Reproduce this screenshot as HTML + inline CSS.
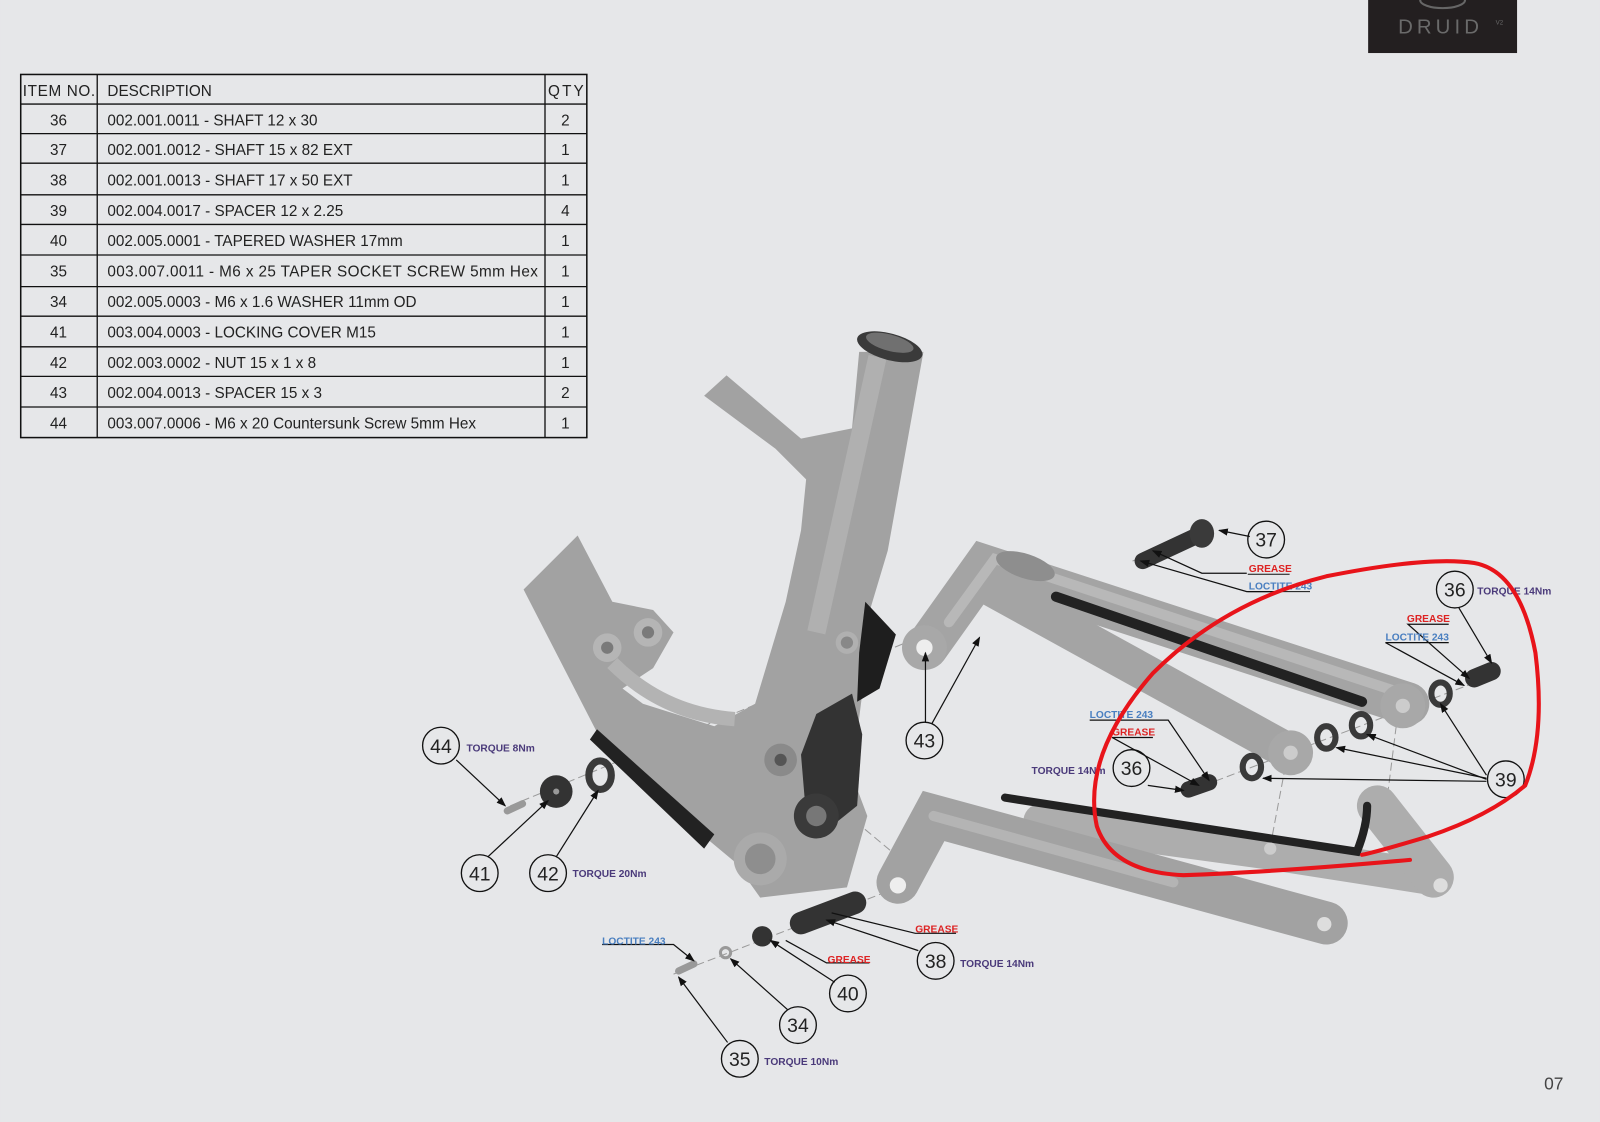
<!DOCTYPE html>
<html><head><meta charset="utf-8"><style>
html,body{margin:0;padding:0;background:#e6e7e9;}
svg{display:block;}
text{font-family:"Liberation Sans",sans-serif;}
.t{font-size:15px;fill:#222;}
.c{fill:none;stroke:#111;stroke-width:1.3;}
.n{font-size:19px;fill:#222;text-anchor:middle;}
.tq{font-size:10px;fill:#4a3a7a;font-weight:bold;}
.gr{font-size:10px;fill:#d22;font-weight:bold;}
.lc{font-size:10px;fill:#4a7fc0;font-weight:bold;}
.ld{stroke:#111;stroke-width:1.2;fill:none;}
.dash{stroke:#9a9a9a;stroke-width:1;stroke-dasharray:8 4;fill:none;}
</style></head><body>
<svg width="1600" height="1122" viewBox="0 0 1568 1100" xmlns="http://www.w3.org/2000/svg">
<defs>
<marker id="a" markerWidth="8" markerHeight="8" refX="7" refY="4" orient="auto"><path d="M0,1 L8,4 L0,7 z" fill="#111"/></marker>
</defs>
<rect width="1568" height="1100" fill="#e6e7e9"/>
<!-- logo -->
<rect x="1341" y="0" width="146" height="52" fill="#231f20"/>
<ellipse cx="1414" cy="0" rx="22" ry="8" fill="none" stroke="#666" stroke-width="2"/>
<text x="1412" y="33" font-size="20" fill="#6a6a6a" text-anchor="middle" letter-spacing="4">DRUID</text>
<text x="1466" y="24" font-size="6" fill="#6a6a6a">V2</text>
<text x="1523" y="1068" font-size="17" fill="#444" text-anchor="middle">07</text>

<!-- table -->
<g>
<rect x="20" y="73" width="555" height="356" fill="none" stroke="#111" stroke-width="1.5"/>
<line x1="95" y1="73" x2="95" y2="429" stroke="#111" stroke-width="1.3"/>
<line x1="534" y1="73" x2="534" y2="429" stroke="#111" stroke-width="1.3"/>
<g stroke="#111" stroke-width="1.3">
<line x1="20" y1="102" x2="575" y2="102"/><line x1="20" y1="131" x2="575" y2="131"/>
<line x1="20" y1="160" x2="575" y2="160"/><line x1="20" y1="191" x2="575" y2="191"/>
<line x1="20" y1="220" x2="575" y2="220"/><line x1="20" y1="250" x2="575" y2="250"/>
<line x1="20" y1="281" x2="575" y2="281"/><line x1="20" y1="310" x2="575" y2="310"/>
<line x1="20" y1="340" x2="575" y2="340"/><line x1="20" y1="369" x2="575" y2="369"/>
<line x1="20" y1="399" x2="575" y2="399"/>
</g>
<text class="t" x="22" y="94" textLength="71">ITEM NO.</text>
<text class="t" x="105" y="94">DESCRIPTION</text>
<text class="t" x="537" y="94" textLength="35">QTY</text>
<g class="t" text-anchor="middle">
<text x="57" y="123">36</text><text x="57" y="152">37</text><text x="57" y="182">38</text><text x="57" y="212">39</text>
<text x="57" y="241">40</text><text x="57" y="271">35</text><text x="57" y="301">34</text><text x="57" y="331">41</text>
<text x="57" y="361">42</text><text x="57" y="390">43</text><text x="57" y="420">44</text>
<text x="554" y="123">2</text><text x="554" y="152">1</text><text x="554" y="182">1</text><text x="554" y="212">4</text>
<text x="554" y="241">1</text><text x="554" y="271">1</text><text x="554" y="301">1</text><text x="554" y="331">1</text>
<text x="554" y="361">1</text><text x="554" y="390">2</text><text x="554" y="420">1</text>
</g>
<g class="t">
<text x="105" y="123">002.001.0011 - SHAFT 12 x 30</text>
<text x="105" y="152">002.001.0012 - SHAFT 15 x 82 EXT</text>
<text x="105" y="182">002.001.0013 - SHAFT 17 x 50 EXT</text>
<text x="105" y="212">002.004.0017 - SPACER 12 x 2.25</text>
<text x="105" y="241">002.005.0001 - TAPERED WASHER 17mm</text>
<text x="105" y="271" textLength="422">003.007.0011 - M6 x 25 TAPER SOCKET SCREW 5mm Hex</text>
<text x="105" y="301">002.005.0003 - M6 x 1.6 WASHER 11mm OD</text>
<text x="105" y="331">003.004.0003 - LOCKING COVER M15</text>
<text x="105" y="361">002.003.0002 - NUT 15 x 1 x 8</text>
<text x="105" y="390">002.004.0013 - SPACER 15 x 3</text>
<text x="105" y="420">003.007.0006 - M6 x 20 Countersunk Screw 5mm Hex</text>
</g>
</g>

<!-- dashed axes -->
<line class="dash" x1="500" y1="790" x2="900" y2="625"/>
<line class="dash" x1="660" y1="955" x2="880" y2="870"/>
<line class="dash" x1="820" y1="790" x2="880" y2="840"/>
<line class="dash" x1="1110" y1="550" x2="1180" y2="525"/>
<line class="dash" x1="1180" y1="770" x2="1470" y2="660"/>
<line class="dash" x1="1262" y1="740" x2="1245" y2="830"/>
<line class="dash" x1="1370" y1="700" x2="1360" y2="780"/>

<!-- main frame -->
<g fill="#a2a2a2">
<path d="M690,388 L712,368 L785,430 L835,420 L842,345 L905,345 L870,540 L852,600 L845,680 L835,760 L850,800 L830,870 L745,880 L720,845 L690,820 L585,718 L513,578 L566,525 L600,590 L640,598 L660,620 L640,655 L610,675 L630,690 L700,712 L740,690 L770,590 L785,520 L790,470 L760,440 Z"/>
</g>
<path d="M600,650 Q650,700 720,705" stroke="#b3b3b3" stroke-width="14" fill="none"/>
<path d="M860,350 L800,620" stroke="#b0b0b0" stroke-width="18" fill="none"/>
<ellipse cx="872" cy="340" rx="33" ry="13" fill="#3a3a3a" transform="rotate(15 872 340)"/>
<ellipse cx="872" cy="336" rx="24" ry="8" fill="#707070" transform="rotate(15 872 336)"/>
<path d="M585,715 L700,818 L690,832 L578,725 Z" fill="#222"/>
<path d="M848,590 L878,622 L862,675 L840,688 L842,640 Z" fill="#1e1e1e"/>
<path d="M800,700 L835,680 L845,720 L840,790 L815,810 L790,800 L785,740 Z" fill="#333"/>
<circle cx="800" cy="800" r="22" fill="#3a3a3a"/><circle cx="800" cy="800" r="10" fill="#777"/>
<circle cx="745" cy="842" r="26" fill="#aaa"/><circle cx="745" cy="842" r="15" fill="#8e8e8e"/>
<circle cx="765" cy="745" r="16" fill="#8a8a8a"/><circle cx="765" cy="745" r="6" fill="#555"/>
<circle cx="830" cy="630" r="11" fill="#b0b0b0"/><circle cx="830" cy="630" r="6" fill="#888"/>
<circle cx="595" cy="635" r="14" fill="#b5b5b5"/><circle cx="595" cy="635" r="6" fill="#7a7a7a"/>
<circle cx="635" cy="620" r="14" fill="#b5b5b5"/><circle cx="635" cy="620" r="6" fill="#7a7a7a"/>

<!-- upper seatstay -->
<g fill="none" stroke-linecap="round">
<path d="M908,635 L965,555 L1380,690" stroke="#a4a4a4" stroke-width="42"/>
<path d="M960,570 L1265,738" stroke="#a4a4a4" stroke-width="36"/>
<path d="M930,610 L975,548 L1375,680" stroke="#b8b8b8" stroke-width="10"/>
<path d="M1035,585 L1335,688" stroke="#222" stroke-width="10"/>
</g>
<circle cx="906" cy="635" r="22" fill="#a8a8a8"/><circle cx="906" cy="635" r="8" fill="#eee"/>
<circle cx="1375" cy="692" r="22" fill="#a8a8a8"/><circle cx="1375" cy="692" r="7" fill="#ccc"/>
<circle cx="1265" cy="738" r="22" fill="#a8a8a8"/><circle cx="1265" cy="738" r="7" fill="#ccc"/>
<ellipse cx="1005" cy="555" rx="30" ry="12" fill="#8e8e8e" transform="rotate(18 1005 555)"/>

<!-- lower chainstay -->
<g fill="none" stroke-linecap="round">
<path d="M1020,805 L1240,835 L1400,860" stroke="#adadad" stroke-width="34"/>
<path d="M1350,790 L1405,860" stroke="#adadad" stroke-width="40"/>
<path d="M985,782 L1330,835 Q1340,810 1340,790" stroke="#222" stroke-width="8"/>
<path d="M880,865 L915,800 L1300,905" stroke="#a2a2a2" stroke-width="42"/>
<path d="M915,800 L1150,865" stroke="#b4b4b4" stroke-width="10"/>
</g>
<circle cx="880" cy="868" r="8" fill="#eee"/><circle cx="1298" cy="906" r="7" fill="#ddd"/><circle cx="1412" cy="868" r="7" fill="#ddd"/>
<circle cx="1245" cy="832" r="6" fill="#ccc"/>

<!-- hardware -->
<path d="M1120,550 L1178,523" stroke="#333" stroke-width="16" stroke-linecap="round"/>
<ellipse cx="1178" cy="523" rx="12" ry="14" fill="#3a3a3a"/>
<path d="M1445,665 L1462,658" stroke="#333" stroke-width="18" stroke-linecap="round"/>
<path d="M1165,774 L1185,767" stroke="#333" stroke-width="16" stroke-linecap="round"/>
<g fill="none" stroke="#3a3a3a" stroke-width="6">
<ellipse cx="1412" cy="680" rx="9" ry="11"/><ellipse cx="1334" cy="711" rx="9" ry="11"/>
<ellipse cx="1300" cy="723" rx="9" ry="11"/><ellipse cx="1227" cy="752" rx="9" ry="11"/>
<ellipse cx="588" cy="760" rx="11" ry="14" stroke-width="7"/>
</g>
<circle cx="545" cy="776" r="16" fill="#333"/><circle cx="545" cy="776" r="3" fill="#999"/>
<path d="M497,795 L512,788" stroke="#999" stroke-width="7" stroke-linecap="round"/>
<path d="M785,905 L838,885" stroke="#333" stroke-width="22" stroke-linecap="round"/>
<circle cx="747" cy="918" r="10" fill="#333"/>
<circle cx="711" cy="934" r="5" fill="none" stroke="#999" stroke-width="3"/>
<path d="M665,952 L680,945" stroke="#999" stroke-width="7" stroke-linecap="round"/>

<!-- leaders -->
<g class="ld" marker-end="url(#a)">
<line x1="447" y1="745" x2="495" y2="790"/>
<line x1="478" y1="840" x2="537" y2="785"/>
<line x1="545" y1="840" x2="586" y2="775"/>
<line x1="907" y1="708" x2="907" y2="640"/>
<line x1="913" y1="710" x2="960" y2="625"/>
<line x1="1225" y1="526" x2="1195" y2="520"/>
<line x1="1430" y1="596" x2="1462" y2="650"/>
<line x1="1457" y1="760" x2="1412" y2="690"/>
<line x1="1457" y1="763" x2="1310" y2="733"/>
<line x1="1457" y1="764" x2="1340" y2="720"/>
<line x1="1457" y1="766" x2="1238" y2="763"/>
<line x1="1125" y1="770" x2="1160" y2="775"/>
<line x1="713" y1="1022" x2="665" y2="958"/>
<line x1="772" y1="990" x2="716" y2="940"/>
<line x1="818" y1="963" x2="755" y2="922"/>
<line x1="900" y1="932" x2="810" y2="902"/>
</g>
<g class="ld">
<polyline points="1222,562 1178,562 1130,540" marker-end="url(#a)"/>
<polyline points="1256,580 1222,580 1118,550" marker-end="url(#a)"/>
<polyline points="1420,612 1380,612 1440,665" marker-end="url(#a)"/>
<polyline points="1420,630 1358,630 1435,672" marker-end="url(#a)"/>
<polyline points="1128,706 1068,706 1145,706 1185,765" marker-end="url(#a)"/>
<polyline points="1130,723 1090,723 1175,770" marker-end="url(#a)"/>
<polyline points="652,926 590,926 660,926 680,942" marker-end="url(#a)"/>
<polyline points="852,944 810,944 770,922" />
<polyline points="937,915 897,915 815,895" />
</g>
<line x1="1223" y1="563" x2="1264" y2="563" stroke="#111"/>
<line x1="1223" y1="580" x2="1284" y2="580" stroke="#111"/>

<!-- circles -->
<g class="c">
<circle cx="432" cy="731" r="18"/><circle cx="470" cy="856" r="18"/><circle cx="537" cy="856" r="18"/>
<circle cx="906" cy="726" r="18"/><circle cx="1241" cy="529" r="18"/><circle cx="1426" cy="578" r="18"/>
<circle cx="1476" cy="764" r="18"/><circle cx="1109" cy="753" r="18"/><circle cx="917" cy="942" r="18"/>
<circle cx="831" cy="974" r="18"/><circle cx="782" cy="1005" r="18"/><circle cx="725" cy="1038" r="18"/>
</g>
<g class="n">
<text x="432" y="738">44</text><text x="470" y="863">41</text><text x="537" y="863">42</text>
<text x="906" y="733">43</text><text x="1241" y="536">37</text><text x="1426" y="585">36</text>
<text x="1476" y="771">39</text><text x="1109" y="760">36</text><text x="917" y="949">38</text>
<text x="831" y="981">40</text><text x="782" y="1012">34</text><text x="725" y="1045">35</text>
</g>
<text class="tq" x="457" y="737">TORQUE 8Nm</text>
<text class="tq" x="561" y="860">TORQUE 20Nm</text>
<text class="tq" x="1448" y="583">TORQUE 14Nm</text>
<text class="tq" x="1011" y="759">TORQUE 14Nm</text>
<text class="tq" x="941" y="948">TORQUE 14Nm</text>
<text class="tq" x="749" y="1044">TORQUE 10Nm</text>
<text class="gr" x="1224" y="561">GREASE</text>
<text class="lc" x="1224" y="578">LOCTITE 243</text>
<text class="gr" x="1379" y="610">GREASE</text>
<text class="lc" x="1358" y="628">LOCTITE 243</text>
<text class="lc" x="1068" y="704">LOCTITE 243</text>
<text class="gr" x="1090" y="721">GREASE</text>
<text class="gr" x="897" y="914">GREASE</text>
<text class="gr" x="811" y="944">GREASE</text>
<text class="lc" x="590" y="926">LOCTITE 243</text>

<!-- red annotation -->
<path d="M1382,843 Q1250,855 1160,858 Q1090,855 1075,810 Q1060,740 1130,660 Q1200,590 1300,565 Q1400,545 1445,552 Q1490,560 1505,640 Q1515,720 1495,770 Q1460,800 1400,820 Q1350,835 1335,838" fill="none" stroke="#e8141a" stroke-width="4" stroke-linecap="round"/>
</svg>
</body></html>
